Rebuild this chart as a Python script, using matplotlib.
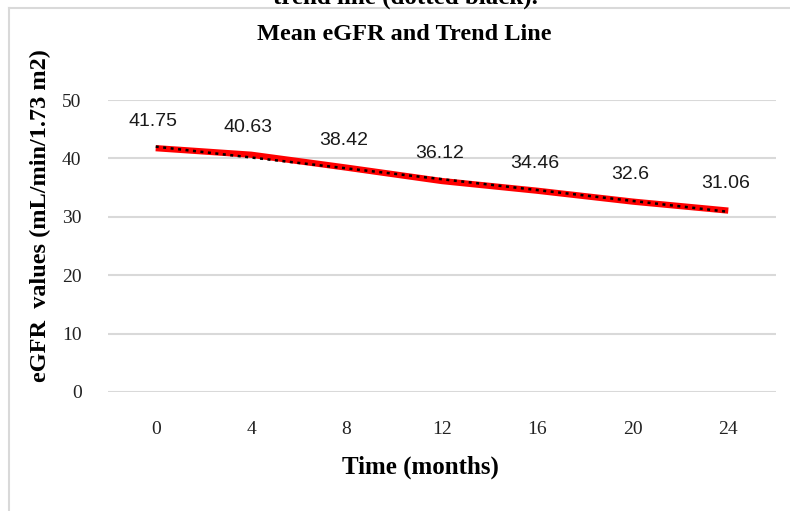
import numpy as np
import matplotlib
matplotlib.use("Agg")
import matplotlib.pyplot as plt
from matplotlib.lines import Line2D

months = ["0", "4", "8", "12", "16", "20", "24"]
egfr = [41.75, 40.63, 38.42, 36.12, 34.46, 32.6, 31.06]
yticks = [0, 10, 20, 30, 40, 50]

W, H = 790, 511


def fx(px):
    return px / W


def fy(py):
    return 1 - py / H


fig = plt.figure(figsize=(7.9, 5.11), dpi=100)
fig.patch.set_facecolor("white")

# outer chart frame: only top and left edges are visible
frame_kw = dict(transform=fig.transFigure, color="#d9d9d9", linewidth=1.5)
fig.add_artist(Line2D([fx(9), 1.0], [fy(8), fy(8)], **frame_kw))
fig.add_artist(Line2D([fx(9), fx(9)], [fy(8), 0.0], **frame_kw))

ax = fig.add_axes([fx(108), fy(392), fx(776) - fx(108), fy(100) - fy(392)])
x = np.arange(len(months))

ax.set_xlim(-0.5, len(months) - 0.5)
ax.set_ylim(0, 50)
ax.set_yticks(yticks)
ax.set_xticks(x)
ax.set_xticklabels(months)
for s in ax.spines.values():
    s.set_visible(False)
ax.tick_params(length=0)
ax.tick_params(axis="y", pad=19)
ax.tick_params(axis="x", pad=21)
for lab in ax.get_xticklabels() + ax.get_yticklabels():
    lab.set_fontfamily("Liberation Serif")
    lab.set_fontsize(14)
    lab.set_color("#222222")
ax.grid(axis="y", color="#d9d9d9", linewidth=1.5)
ax.set_axisbelow(True)

# mean eGFR (red) and linear trend (dotted black)
ax.plot(x, egfr, color="red", linewidth=4.5, solid_capstyle="butt", zorder=3)
coef = np.polyfit(x, egfr, 1)
ax.plot(x, np.polyval(coef, x), color="black", linewidth=1.8,
        linestyle=(0, (1.2, 1.8)), zorder=4)

for xi, v in zip(x, egfr):
    ax.annotate(f"{v:g}", (xi, v), xytext=(-2, 19.5), textcoords="offset points",
                ha="center", va="center", fontsize=14,
                fontfamily="Liberation Sans", color="#1a1a1a")

fig.text(fx(404), fy(34), "Mean eGFR and Trend Line", ha="center", va="center",
         fontsize=17.5, fontweight="bold", fontfamily="Liberation Serif")
fig.text(fx(420), fy(467), "Time (months)", ha="center", va="center",
         fontsize=18, fontweight="bold", fontfamily="Liberation Serif")
fig.text(fx(40), fy(216), "eGFR  values (mL/min/1.73 m2)", ha="center", va="center",
         rotation=90, fontsize=17.5, fontweight="bold", fontfamily="Liberation Serif")
# caption cut off at the top edge
fig.text(fx(405), fy(4), "trend line (dotted black).", ha="center", va="baseline",
         fontsize=18, fontweight="bold", fontfamily="Liberation Serif")

fig.savefig("out.png", dpi=100, facecolor="white")
